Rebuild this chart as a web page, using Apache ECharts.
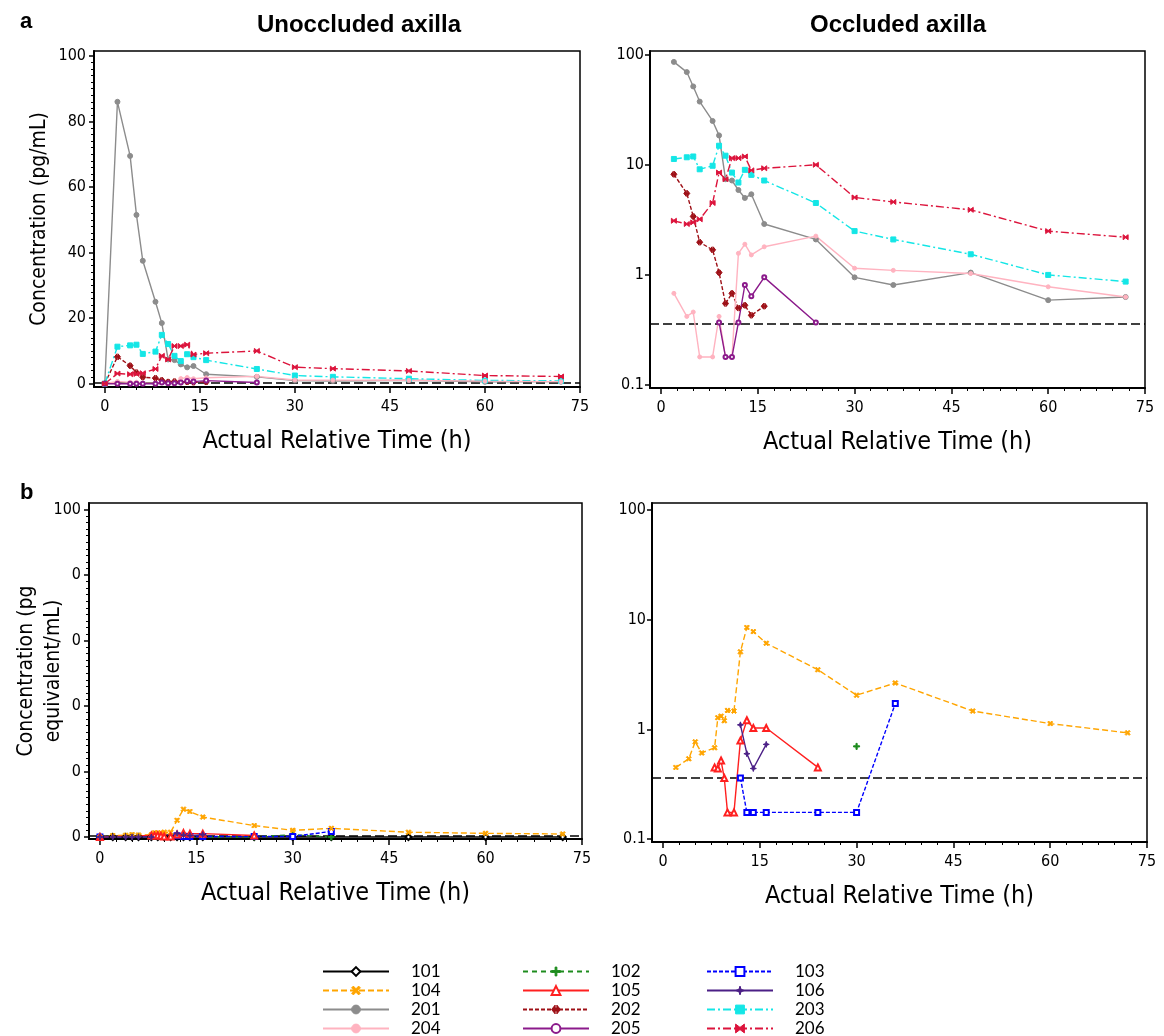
<!DOCTYPE html>
<html><head><meta charset="utf-8">
<script src="https://cdn.jsdelivr.net/npm/echarts@6/dist/echarts.min.js"></script>
<style>html,body{margin:0;padding:0;background:#fff}#c{width:1164px;height:1036px}</style>
</head><body><div id="c"></div>
<script>
// ---------- data ----------
const TIME_TICKS = [0, 15, 30, 45, 60, 75];
const LIN_TICKS = [0, 20, 40, 60, 80, 100];
const LOG_TICKS = [0.1, 1, 10, 100];
const LLOQ = 0.36;

// panel a (pg/mL)
const t201 = [0,2,4,5,6,8,9,10,11,12,13,14,16,24,30,36,48,60,72];
const c201 = [0,86,69.5,51.5,37.5,25,18.5,7.4,7.2,5.9,5.0,5.4,2.9,2.1,0.95,0.81,1.05,0.59,0.63];
const t202 = [0,2,4,5,6,8,9,10,11,12,13,14,16];
const c202 = [0,8.2,5.5,3.4,1.98,1.69,1.05,0.55,0.68,0.50,0.53,0.43,0.52];
const t203 = [0,2,4,5,6,8,9,10,11,12,13,14,16,24,30,36,48,60,72];
const c203 = [0,11.3,11.7,11.9,9.1,9.8,14.9,12.1,8.5,6.9,9.0,8.1,7.2,4.5,2.5,2.1,1.54,1.0,0.87];
const t204 = [0,2,4,5,6,8,9,10,11,12,13,14,16,24,30,36,48,60,72];
const c204 = [0,0.68,0.42,0.46,0.18,0.18,0.42,0.18,0.18,1.57,1.9,1.52,1.8,2.25,1.15,1.1,1.03,0.78,0.63];
const t205 = [0,2,4,5,6,8,9,10,11,12,13,14,16,24];
const c205 = [0,0,0,0,0,0,0.37,0.18,0.18,0.37,0.81,0.64,0.95,0.37];
const t206 = [0,2,4,5,6,8,9,10,11,12,13,14,16,24,30,36,48,60,72];
const c206 = [0,3.1,2.9,3.0,3.2,4.5,8.5,7.4,11.5,11.5,11.9,8.9,9.3,10.0,5.05,4.6,3.9,2.5,2.2];

// panel b (pg equivalent/mL)
const t101 = [0,2,4,5,6,8,9,10,11,12,13,14,16,24,30,36,48,60,72];
const c101 = [0,0,0,0,0,0,0,0,0,0,0,0,0,0,0,0,0,0,0];
const t102 = [0,24,30,36];
const c102 = [0,0,0.70,0];
const t103 = [0,12,13,14,16,24,30,36];
const c103 = [0,0.36,0.175,0.175,0.175,0.175,0.175,1.72];
const t104 = [0,2,4,5,6,8,8.5,9,9.5,10,11,12,13,14,16,24,30,36,48,60,72];
const c104 = [0,0.45,0.54,0.77,0.61,0.68,1.28,1.32,1.2,1.49,1.47,5.1,8.5,7.8,6.1,3.5,2.05,2.65,1.47,1.13,0.93];
const t105 = [0,8,8.5,9,9.5,10,11,12,13,14,16,24];
const c105 = [0,0.45,0.44,0.52,0.36,0.175,0.175,0.79,1.21,1.03,1.03,0.45];
const t106 = [0,2,4,5,6,8,12,13,14,16];
const c106 = [0,0,0,0,0,0,1.1,0.6,0.44,0.73];

const PANEL_A = [['201',t201,c201],['202',t202,c202],['203',t203,c203],['204',t204,c204],['205',t205,c205],['206',t206,c206]];
const PANEL_B = [['101',t101,c101],['102',t102,c102],['103',t103,c103],['104',t104,c104],['105',t105,c105],['106',t106,c106]];

// ---------- styles ----------
const P_X = 'path://M2,0L5,3L8,0L10,2L7,5L10,8L8,10L5,7L2,10L0,8L3,5L0,2Z';
const P_PLUS = 'path://M4,0H6V4H10V6H6V10H4V6H0V4H4Z';
const P_STAR = 'path://M5,0L6.3,3.7L10,5L6.3,6.3L5,10L3.7,6.3L0,5L3.7,3.7Z';
const P_DARROW = 'path://M0,5L4,0.5V3.5H6V0.5L10,5L6,9.5V6.5H4V9.5Z';
const P_BOW = 'path://M0,1L5,4L10,1V9L5,6L0,9Z';
const STYLE = {
  '101': {color:'#000000', symbol:'emptyDiamond', size:6, type:'solid'},
  '102': {color:'#1e8c1e', symbol:P_PLUS, size:6, type:[5,4]},
  '103': {color:'#0000ff', symbol:'emptyRect', size:5, type:[4,2]},
  '104': {color:'#ffa500', symbol:P_X, size:5, type:[6,3]},
  '105': {color:'#ff2020', symbol:'emptyTriangle', size:6, type:'solid'},
  '106': {color:'#4b1f86', symbol:P_STAR, size:6, type:'solid'},
  '201': {color:'#8c8c8c', symbol:'circle', size:5, type:'solid'},
  '202': {color:'#9e1017', symbol:P_DARROW, size:6, type:[4,2]},
  '203': {color:'#14e6e6', symbol:'rect', size:5, type:[8,3,2,3]},
  '204': {color:'#ffb3c0', symbol:'circle', size:4, type:'solid'},
  '205': {color:'#8b1a8b', symbol:'emptyCircle', size:4, type:'solid'},
  '206': {color:'#dc143c', symbol:P_BOW, size:5, type:[8,3,2,3]}
};

const FONT = "'Liberation Sans Narrow','DejaVu Sans Condensed','Liberation Sans',Arial,sans-serif";
const BOLD = "'Liberation Sans','Arial',sans-serif";

const X_MINOR = [];
for (let v = 2.5; v < 75; v += 2.5) if (v % 15 !== 0) X_MINOR.push(v);
const Y_MINOR = [];
for (let v = 2; v < 100; v += 2) if (v % 20 !== 0) Y_MINOR.push(v);

// ---------- layout ----------
const GRIDS = [
  {left: 94,  top: 51,  width: 486, height: 336},
  {left: 650, top: 51,  width: 495, height: 337},
  {left: 89,  top: 503, width: 493, height: 336},
  {left: 652, top: 503, width: 495, height: 339}
];
const X_MIN = -1.7, X_MAX = 75;

function xMain(gi, name) {
  return {type:'value', gridIndex:gi, position:'bottom', min:X_MIN, max:X_MAX,
    name:name, nameLocation:'middle', nameGap:42, nameMoveOverlap:false,
    nameTextStyle:{fontFamily:FONT, fontSize:25, color:'#000'},
    axisLine:{show:true, onZero:false, lineStyle:{color:'#000', width:2}},
    axisTick:{show:true, customValues:TIME_TICKS, length:6, lineStyle:{color:'#000', width:1.5}},
    axisLabel:{customValues:TIME_TICKS, fontFamily:FONT, fontSize:16, color:'#000', margin:12},
    splitLine:{show:false}};
}
function xMinor(gi) {
  return {type:'value', gridIndex:gi, position:'bottom', min:X_MIN, max:X_MAX,
    axisLine:{show:false, onZero:false},
    axisTick:{show:true, customValues:X_MINOR, length:3, lineStyle:{color:'#000', width:1}},
    axisLabel:{show:false}, splitLine:{show:false}};
}
function yLin(gi, min, max, name, nameGap, fmt) {
  return {type:'value', gridIndex:gi, position:'left', min:min, max:max,
    name:name, nameLocation:'middle', nameGap:nameGap, nameMoveOverlap:false,
    nameTextStyle:{fontFamily:FONT, fontSize:21, color:'#000', lineHeight:27},
    axisLine:{show:true, onZero:false, lineStyle:{color:'#000', width:2}},
    axisTick:{show:true, customValues:LIN_TICKS, length:5, lineStyle:{color:'#000', width:1.5}},
    axisLabel:{customValues:LIN_TICKS, fontFamily:FONT, fontSize:16, color:'#000', margin:8, formatter:fmt},
    splitLine:{show:false}};
}
function yLinMinor(gi, min, max) {
  return {type:'value', gridIndex:gi, position:'left', min:min, max:max,
    axisLine:{show:false, onZero:false},
    axisTick:{show:true, customValues:Y_MINOR, length:3, lineStyle:{color:'#000', width:1}},
    axisLabel:{show:false}, splitLine:{show:false}};
}
function yLog(gi, min, max) {
  return {type:'log', logBase:10, gridIndex:gi, position:'left', min:min, max:max,
    axisLine:{show:true, onZero:false, lineStyle:{color:'#000', width:2}},
    axisTick:{show:true, customValues:LOG_TICKS, length:5, lineStyle:{color:'#000', width:1.5}},
    axisLabel:{customValues:LOG_TICKS, fontFamily:FONT, fontSize:16, color:'#000', margin:6,
      formatter: v => String(+Number(v).toPrecision(3))},
    splitLine:{show:false}, minorTick:{show:false}};
}

const xAxis = [
  xMain(0, 'Actual Relative Time (h)'), xMain(1, 'Actual Relative Time (h)'),
  xMain(2, 'Actual Relative Time (h)'), xMain(3, 'Actual Relative Time (h)'),
  xMinor(0), xMinor(1), xMinor(2), xMinor(3)
];
const yAxis = [
  yLin(0, -1.0, 101.5, 'Concentration (pg/mL)', 41, v => String(v)),
  yLog(1, 0.094, 108),
  yLin(2, -0.6, 102, 'Concentration (pg\nequivalent/mL)', 22, v => v === 100 ? '100' : String(v % 10)),
  yLog(3, 0.094, 116),
  yLinMinor(0, -1.0, 101.5),
  yLinMinor(2, -0.6, 102)
];

const series = [];
function addPanel(list, gi, isLog) {
  list.forEach(([name, t, c], k) => {
    const st = STYLE[name];
    let data = t.map((x, i) => [x, c[i]]);
    if (isLog) data = data.filter(p => p[1] > 0);
    const s = {
      type:'line', name:name, xAxisIndex:gi, yAxisIndex:gi, data:data,
      symbol:st.symbol, symbolSize:st.size, showSymbol:true, animation:false,
      lineStyle:{color:st.color, width:1.4, type:st.type},
      itemStyle:{color:st.color, borderColor:st.color, borderWidth:1},
      emphasis:{disabled:true}, z:3
    };
    if (k === 0) {
      s.markLine = {silent:true, symbol:['none','none'], animation:false,
        label:{show:false}, lineStyle:{color:'#000', width:1.6, type:[9,4]},
        data:[{yAxis: LLOQ}], z:2};
    }
    series.push(s);
  });
}
addPanel(PANEL_A, 0, false);
addPanel(PANEL_A, 1, true);
addPanel(PANEL_B, 2, false);
addPanel(PANEL_B, 3, true);

function legendCol(left, names) {
  return {show:true, orient:'vertical', left:left, top:963, height:120, itemWidth:66, itemHeight:11,
    itemGap:2, data:names, selectedMode:false, padding:0,
    itemStyle:{borderWidth:1},
    textStyle:{fontFamily:"Lato,'Open Sans',sans-serif", fontSize:17, color:'#000',
      padding:[0,0,0,17], lineHeight:14}};
}

const option = {
  backgroundColor:'#fff',
  animation:false,
  title:[
    {text:'a', left:15, top:6, textStyle:{fontFamily:BOLD, fontWeight:'bold', fontSize:22, color:'#000'}},
    {text:'b', left:15, top:477, textStyle:{fontFamily:BOLD, fontWeight:'bold', fontSize:22, color:'#000'}},
    {text:'Unoccluded axilla', left:354, top:8, textAlign:'center', textStyle:{fontFamily:BOLD, fontWeight:'bold', fontSize:24, color:'#000'}},
    {text:'Occluded axilla', left:893, top:8, textAlign:'center', textStyle:{fontFamily:BOLD, fontWeight:'bold', fontSize:24, color:'#000'}}
  ],
  grid: GRIDS.map(g => Object.assign({show:true, borderColor:'#000', borderWidth:1.5,
    backgroundColor:'#fff', containLabel:false, outerBoundsMode:'none'}, g)),
  xAxis: xAxis,
  yAxis: yAxis,
  legend:[
    legendCol(322, ['101','104','201','204']),
    legendCol(522, ['102','105','202','205']),
    legendCol(706, ['103','106','203','206'])
  ],
  tooltip:{show:false},
  series: series
};
const chart = echarts.init(document.getElementById('c'), null, {renderer:'canvas'});
chart.setOption(option);
</script></body></html>
